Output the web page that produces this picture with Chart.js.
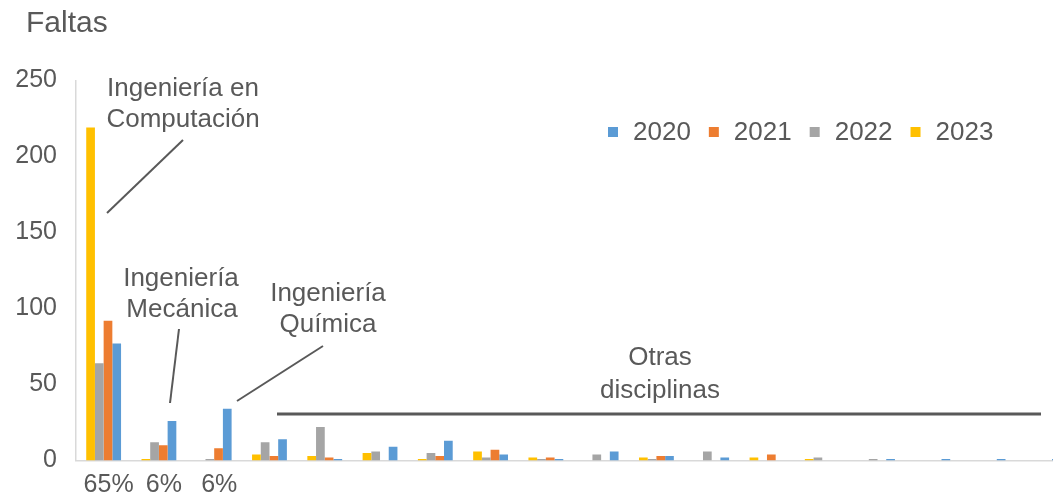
<!DOCTYPE html>
<html>
<head>
<meta charset="utf-8">
<script src="https://cdn.jsdelivr.net/npm/chart.js@4.4.1/dist/chart.umd.min.js"></script>
<style>
    html, body { margin: 0; padding: 0; background: #fff; overflow: hidden; }
    #grafico { display: block; }
</style>
</head>
<body>
<canvas id="grafico" width="1087" height="497"></canvas>
<script>
// ========================
// DADOS
// ========================
const etiquetas = ['65%', '6%', '6%', '', '', '', '', '', '', '', '', '', '', '', '', '', '', ''];
const anos = ['2023', '2022', '2021', '2020'];
const faltas2023 = [219, 1, 0, 4, 3, 5, 1, 6, 2, 0, 2, 0, 2, 1, 0, 0, 0, 0];
const faltas2022 = [64, 12, 1, 12, 22, 6, 5, 2, 1, 4, 1, 6, 0, 2, 1, 0, 0, 0];
const faltas2021 = [92, 10, 8, 3, 2, 0, 3, 7, 2, 0, 3, 0, 4, 0, 0, 0, 0, 0];
const faltas2020 = [77, 26, 34, 14, 1, 9, 13, 4, 1, 6, 3, 2, 0, 0, 1, 1, 1, 1];
const cores = ['#FFC000', '#A5A5A5', '#ED7D31', '#5B9BD5'];
const ticksY = [0, 50, 100, 150, 200, 250];

const FONTE = '"Liberation Sans", Arial, sans-serif';
const CINZA = '#595959';

// ========================
// PLUGINS (legenda e anotações)
// ========================
const legendaPlugin = {
    id: 'legendaPlugin',
    afterDraw(chart) {
        const ctx = chart.ctx;
        ctx.save();
        ctx.font = '26px ' + FONTE;
        ctx.textBaseline = 'middle';
        let x = 608;
        const y = 132;
        const ds = chart.data.datasets.slice().reverse();
        ds.forEach(d => {
            ctx.fillStyle = d.backgroundColor;
            ctx.fillRect(x, y - 5, 10, 10);
            x += 25;
            ctx.fillStyle = CINZA;
            ctx.textAlign = 'left';
            ctx.fillText(d.label, x, y + 1);
            x += ctx.measureText(d.label).width + 18;
        });
        ctx.restore();
    }
};

const anotacoesPlugin = {
    id: 'anotacoesPlugin',
    afterDraw(chart) {
        const ctx = chart.ctx;
        ctx.save();
        ctx.fillStyle = CINZA;
        ctx.font = '30px ' + FONTE;
        ctx.textAlign = 'left';
        ctx.textBaseline = 'alphabetic';
        ctx.fillText('Faltas', 26, 32);

        ctx.font = '26px ' + FONTE;
        ctx.textAlign = 'center';
        ctx.textBaseline = 'middle';
        const textos = [
            ['Ingeniería en', 183, 89], ['Computación', 183, 120],
            ['Ingeniería', 181, 279], ['Mecánica', 182, 310],
            ['Ingeniería', 328, 294], ['Química', 328, 325],
            ['Otras', 660, 358], ['disciplinas', 660, 391]
        ];
        textos.forEach(t => ctx.fillText(t[0], t[1], t[2]));

        ctx.strokeStyle = CINZA;
        ctx.lineWidth = 2;
        const linhas = [
            [107, 213, 183, 140],
            [179, 329, 170, 403],
            [323, 346, 237, 401]
        ];
        linhas.forEach(l => {
            ctx.beginPath();
            ctx.moveTo(l[0], l[1]);
            ctx.lineTo(l[2], l[3]);
            ctx.stroke();
        });
        ctx.lineWidth = 3;
        ctx.beginPath();
        ctx.moveTo(277, 414);
        ctx.lineTo(1041, 414);
        ctx.stroke();
        ctx.restore();
    }
};

// ========================
// GRÁFICO
// ========================
function renderGrafico() {
    const series = [faltas2023, faltas2022, faltas2021, faltas2020];
    const ctx = document.getElementById('grafico');

    window.graficoFaltas = new Chart(ctx, {
        type: 'bar',
        data: {
            labels: etiquetas,
            datasets: anos.map((a, i) => ({
                label: a,
                data: series[i],
                backgroundColor: cores[i],
                borderWidth: 0,
                barPercentage: 1,
                categoryPercentage: 0.63
            }))
        },
        options: {
            responsive: false,
            animation: false,
            layout: { padding: { top: 80.5, right: 16, left: 0, bottom: 0 } },
            plugins: {
                legend: { display: false },
                tooltip: { enabled: false }
            },
            scales: {
                x: {
                    grid: { display: false, drawTicks: false },
                    border: { display: true, color: '#D9D9D9', width: 1.5 },
                    ticks: {
                        color: CINZA,
                        font: { size: 25, family: FONTE },
                        padding: 10,
                        labelOffset: 5,
                        autoSkip: false,
                        maxRotation: 0
                    },
                    afterFit: function(scale) { scale.height = 36.5; }
                },
                y: {
                    min: 0,
                    max: 250,
                    afterBuildTicks: function(scale) {
                        scale.ticks = ticksY.map(v => ({ value: v }));
                    },
                    grid: { display: false, drawTicks: false },
                    border: { display: true, color: '#D9D9D9', width: 1.5 },
                    ticks: {
                        color: CINZA,
                        font: { size: 25, family: FONTE },
                        padding: 19
                    },
                    afterFit: function(scale) { scale.width = 76; }
                }
            }
        },
        plugins: [legendaPlugin, anotacoesPlugin]
    });
}

renderGrafico();
</script>
</body>
</html>
